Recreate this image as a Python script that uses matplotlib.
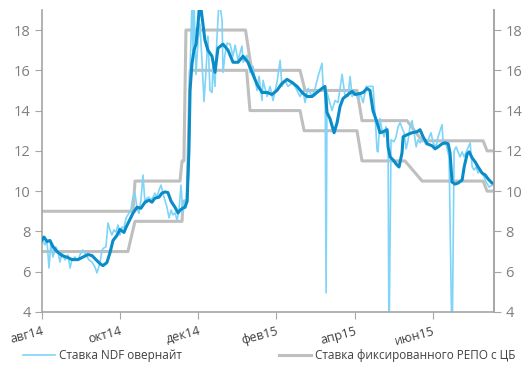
import matplotlib
matplotlib.use("Agg")
import matplotlib.pyplot as plt
import numpy as np

plt.rcParams['font.family'] = ['Open Sans', 'DejaVu Sans']

# ось x - номер торгового дня от начала периода
tick_pos = [0, 42, 84, 126, 168, 210]
tick_lbl = ['авг14', 'окт14', 'дек14', 'фев15', 'апр15', 'июн15']

# ставка NDF овернайт (дневные значения)
ndf_x = [0, 1.6, 2.7, 3.8, 4.8, 5.9, 7.5, 8.6, 9.7, 10.8, 12.4, 14, 15.1, 16.1, 17.7, 19.4,
         20.4, 22, 23.7, 25.3, 26.9, 28.5, 29.6, 31.2, 32.3, 33.3, 34.4, 35.5, 36.6, 37.6,
         38.7, 39.8, 40.9, 41.9, 43, 44.1, 45.2, 46.2, 47.8, 48.9, 50, 51.1, 52.1, 53.2,
         54.3, 55.4, 56.4, 57.5, 58.6, 59.7, 60.7, 61.8, 62.9, 64, 65, 66.1, 67.2, 68.3,
         69.4, 70.4, 71.5, 72.6, 73.7, 74.7, 75.8, 76.9, 78, 79, 79.6, 80.6, 81.2, 81.7,
         82.8, 83.9, 84.9, 86, 87.1, 88.2, 89.2, 90.3, 91.4, 91.9, 93, 94, 95.2, 96.8,
         97.3, 98.4, 99.5, 101.1, 102.7, 103.8, 105.4, 107.5, 108.1, 110.2, 111.8, 113.4,
         115.6, 116.7, 118.3, 118.8, 121, 122.6, 124.2, 126.3, 128, 129, 130.6, 132.2,
         134.9, 137.1, 138.7, 140.3, 141.4, 143, 145.2, 146.8, 148.4, 150.5, 151.1, 152.2,
         152.7, 153.2, 153.8, 155.9, 157.5, 159.1, 161.3, 162.9, 164.5, 165.6, 166.7, 168.3,
         169.9, 171, 172.6, 174.2, 176.3, 177.9, 179, 180.1, 180.6, 181.7, 182.8, 183.9,
         184.9, 186, 186.5, 187.6, 189.2, 190.3, 191.4, 192.5, 193.5, 194.6, 195.7, 196.8,
         197.8, 198.9, 200, 201.1, 202.1, 203.2, 204.8, 206.4, 207.5, 209.1, 210.2, 211.8,
         212.9, 215, 215.6, 217.2, 218.8, 220.4, 221.5, 222.6, 223.6, 224.7, 225.8, 226.9,
         228.5, 230.1, 231.2, 232.2, 233.3, 234.4, 235.5, 236.5, 237.6, 238.7, 240.3, 241.9, 243]
ndf_y = [7.67, 7.33, 7.57, 6.18, 7.43, 6.73, 7.23, 6.98, 6.48, 6.93, 6.58, 6.83, 6.18, 6.58, 6.73, 6.58,
         6.83, 7.08, 6.83, 6.58, 6.48, 6.23, 5.94, 6.43, 7.08, 7.18, 7.23, 8.42, 8.07, 7.82,
         8.07, 7.97, 8.32, 7.82, 8.22, 8.17, 8.67, 8.82, 9.06, 9.7, 9.9, 9.15, 8.9, 9.55,
         10.8, 9.4, 9.65, 9.7, 9.55, 9.7, 9.9, 9.7, 10.05, 10.3, 9.9, 9.55, 9.2, 8.67,
         9.06, 8.82, 8.92, 8.57, 9.06, 10.3, 8.92, 9.56, 9.41, 11.2, 16.0, 19.2, 17.0, 19.5,
         15.8, 17.5, 18.3, 16.5, 14.45, 16.0, 17.7, 15.0, 14.9, 16.2, 15.2, 17.5, 19.5, 18.5,
         15.9, 16.8, 17.35, 17.3, 16.7, 17.25, 16.5, 17.2, 16.4, 16.75, 15.9, 16.2,
         15.0, 15.7, 14.5, 15.5, 14.7, 15.2, 14.5, 15.4, 16.5, 15.2, 15.5, 15.2,
         15.4, 15.0, 14.7, 15.0, 14.4, 15.1, 14.7, 15.1, 15.7, 16.35, 15.2, 14.9,
         4.95, 14.9, 14.7, 14.0, 14.5, 14.4, 15.8, 14.7, 14.7, 15.7, 14.7, 14.95,
         14.6, 14.85, 14.4, 15.2, 15.2, 15.2, 13.8, 12.0, 11.95, 13.6, 13.0, 12.7,
         13.2, 12.9, 2.0, 12.55, 12.45, 12.7, 13.2, 13.4, 13.15, 12.9, 12.1, 12.55,
         13.2, 13.5, 12.9, 12.2, 12.55, 12.4, 12.65, 12.3, 12.55, 12.9, 12.4, 12.2,
         12.7, 13.3, 12.4, 12.3, 11.7, 2.0, 12.0, 12.2, 11.95, 11.7, 11.95, 11.7,
         12.05, 12.4, 11.2, 11.05, 11.2, 10.9, 11.05, 10.9, 10.7, 10.45, 10.2, 10.3, 10.3]

# сглаженная ставка NDF
avg_x = [0, 1.1, 2.7, 4.3, 5.9, 8.1, 10.8, 14, 16.1, 19.4, 21.5, 24.7, 26.9, 29, 31.2, 32.8,
         34.9, 36.6, 38.2, 40.3, 41.9, 44.1, 45.2, 47.3, 48.9, 51.1, 53.2, 55.4, 57.5, 59.1,
         60.7, 62.9, 64.5, 66.1, 67.7, 69.4, 71.5, 73.1, 74.2, 75.8, 76.9, 78, 79, 79.6,
         80.6, 81.7, 82.8, 83.9, 84.9, 87.6, 89.2, 91.4, 93, 94.6, 97.3, 100, 102.7, 105.4,
         108.1, 110.7, 112.9, 115.6, 118.3, 121, 123.6, 126.3, 129, 131.7, 134.4, 137.1,
         139.8, 142.5, 145.2, 147.8, 150.5, 152.1, 153.2, 154.8, 157, 158.6, 160.2, 161.8,
         164.5, 166.7, 168.3, 171, 172.6, 174.7, 176.3, 177.9, 180.1, 181.7, 183.3, 185.5,
         186, 187.1, 188.7, 190.8, 191.9, 193.5, 194.1, 196.2, 198.9, 201.6, 203.2, 204.8,
         207, 209.7, 211.3, 212.9, 215, 216.7, 218.3, 219.3, 220.4, 222, 223.6, 225.8,
         226.9, 228.5, 229.6, 231.2, 232.8, 234.4, 236.5, 238.2, 239.8, 241.9, 243]
avg_y = [7.57, 7.72, 7.5, 7.55, 7.25, 7.0, 6.8, 6.7, 6.6, 6.6, 6.7, 6.85, 6.8, 6.6, 6.4, 6.3,
         6.45, 6.95, 7.55, 7.8, 8.1, 7.95, 8.2, 8.6, 8.9, 9.2, 9.15, 9.45, 9.55, 9.45,
         9.65, 9.7, 9.9, 9.96, 9.93, 9.5, 9.2, 8.92, 9.05, 9.16, 9.2, 9.5, 12.0, 15.0,
         16.3, 17.0, 17.3, 18.3, 19.5, 17.5, 17.0, 16.7, 15.9, 17.1, 17.3, 17.0, 16.4, 16.4,
         16.7, 16.4, 15.9, 15.3, 14.9, 14.9, 14.8, 15.0, 15.35, 15.55, 15.4, 15.2,
         14.9, 14.7, 14.7, 14.9, 15.1, 15.2, 13.9, 13.6, 12.9, 13.4, 14.2, 14.6,
         14.8, 14.95, 14.8, 14.85, 14.9, 15.1, 15.0, 14.0, 13.4, 12.9, 12.95, 13.05,
         12.2, 11.7, 11.55, 11.3, 11.2, 11.9, 12.7, 12.8, 12.9, 12.95, 13.05, 12.7,
         12.35, 12.25, 12.1, 12.2, 12.35, 12.4, 12.35, 11.9, 10.45, 10.35, 10.4, 10.55,
         11.2, 11.85, 11.95, 11.65, 11.45, 11.2, 10.9, 10.8, 10.6, 10.4, 10.4]

# ставки фиксированного РЕПО с ЦБ (верхняя и нижняя)
repo_hi_x = [0, 49, 50, 74.2, 75.3, 76.3, 77.4, 109.4, 112.7, 138.7, 141.4, 169.3, 172,
             196.2, 204.3, 237.1, 239.2, 243]
repo_hi_y = [9, 9, 10.5, 10.5, 11.5, 11.5, 18, 18, 16, 16, 15, 15, 13.5,
             13.5, 12.5, 12.5, 12, 12]
repo_lo_x = [0, 46.2, 50, 75.3, 75.8, 78, 79.6, 110, 111.8, 138.7, 140.9, 169.3, 172,
             195.1, 204.3, 237.1, 239.2, 243]
repo_lo_y = [7, 7, 8.5, 8.5, 9.5, 9.5, 16, 16, 14, 14, 13, 13, 11.5,
             11.5, 10.5, 10.5, 10, 10]

lbl_color = '#7f7f7f'
axis_color = '#a6a6a6'

fig = plt.figure(figsize=(5.24, 3.67), dpi=100)
ax = fig.add_axes([0.080, 0.150, 0.863, 0.823])

l_ndf, = ax.plot(ndf_x, ndf_y, color='#7fd4f8', lw=1.2, zorder=2)
l_repo, = ax.plot(repo_hi_x, repo_hi_y, color='#bfbfbf', lw=2.2, zorder=1)
ax.plot(repo_lo_x, repo_lo_y, color='#bfbfbf', lw=2.2, zorder=1)
ax.plot(avg_x, avg_y, color='#0a8cc8', lw=2.2, zorder=3)

ax.set_xlim(0, 243)
ax.set_ylim(4, 19)
ax.set_yticks(range(4, 19, 2))
ax.set_xticks(tick_pos)
ax.set_xticklabels(tick_lbl, rotation=15, ha='right', rotation_mode='anchor')

ax.spines['top'].set_visible(False)
for s in ['left', 'right', 'bottom']:
    ax.spines[s].set_color(axis_color)
    ax.spines[s].set_linewidth(1.2)
ax.tick_params(axis='y', direction='out', length=5, color=axis_color, labelcolor=lbl_color,
               labelsize=10.5, pad=3)
ax.tick_params(axis='x', direction='out', length=5, color=axis_color, labelcolor='#404040',
               labelsize=9, pad=4)

ax2 = ax.twinx()
ax2.set_ylim(4, 19)
ax2.set_yticks(range(4, 19, 2))
ax2.spines['top'].set_visible(False)
ax2.spines['right'].set_color(axis_color)
ax2.spines['right'].set_linewidth(1.2)
ax2.spines['left'].set_visible(False)
ax2.spines['bottom'].set_visible(False)
ax2.tick_params(axis='y', direction='out', length=5, color=axis_color, labelcolor=lbl_color,
                labelsize=10.5, pad=3)

fig.legend([l_ndf, l_repo], ['Ставка NDF овернайт', 'Ставка фиксированного РЕПО с ЦБ'],
           loc='center left', bbox_to_anchor=(0.044, 0.032), ncol=2, frameon=False,
           fontsize=8.5, handlelength=2.7, handletextpad=0.35, columnspacing=8.2,
           borderpad=0, borderaxespad=0, labelcolor='#404040')

fig.savefig('out.png', dpi=100)
